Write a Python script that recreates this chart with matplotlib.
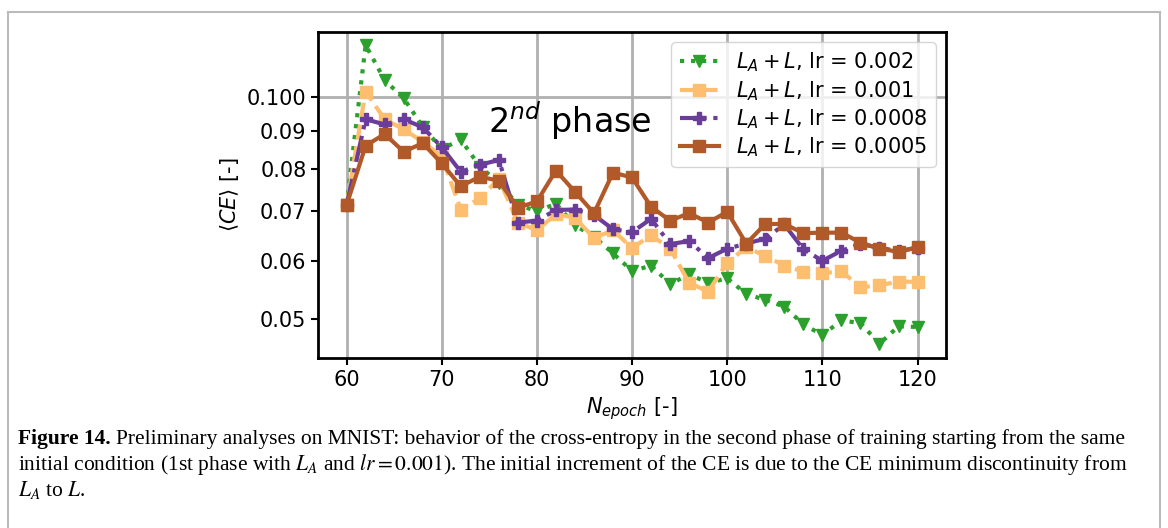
#recreation of the cross-entropy second phase chart
#
import matplotlib
matplotlib.use('Agg')
import matplotlib.pyplot as plt
from matplotlib.lines import Line2D
import numpy as np
#
epochs = [60, 62, 64, 66, 68, 70, 72, 74, 76, 78, 80, 82, 84, 86, 88, 90,
          92, 94, 96, 98, 100, 102, 104, 106, 108, 110, 112, 114, 116, 118, 120]

ce_lr0002 = [0.0714, 0.1176, 0.1054, 0.0996, 0.0912, 0.0850, 0.0876, 0.0805, 0.0765, 0.0715, 0.0700,
             0.0717, 0.0670, 0.0647, 0.0614, 0.0581, 0.0591, 0.0558, 0.0575, 0.0560, 0.0568,
             0.0541, 0.0531, 0.0520, 0.0492, 0.0476, 0.0498, 0.0494, 0.0463, 0.0489, 0.0488]
ce_lr0001 = [0.0714, 0.1017, 0.0933, 0.0904, 0.0870, 0.0830, 0.0704, 0.0729, 0.0775, 0.0676, 0.0660,
             0.0694, 0.0686, 0.0644, 0.0660, 0.0624, 0.0650, 0.0623, 0.0560, 0.0545, 0.0596,
             0.0626, 0.0609, 0.0591, 0.0580, 0.0577, 0.0581, 0.0552, 0.0556, 0.0562, 0.0562]
ce_lr00008 = [0.0714, 0.0933, 0.0918, 0.0933, 0.0910, 0.0855, 0.0792, 0.0809, 0.0822, 0.0676, 0.0680,
              0.0703, 0.0704, 0.0692, 0.0662, 0.0656, 0.0684, 0.0632, 0.0638, 0.0605, 0.0623,
              0.0633, 0.0643, 0.0672, 0.0622, 0.0600, 0.0619, 0.0632, 0.0625, 0.0618, 0.0625]
ce_lr00005 = [0.0714, 0.0859, 0.0891, 0.0843, 0.0866, 0.0813, 0.0757, 0.0780, 0.0770, 0.0708, 0.0722,
              0.0795, 0.0744, 0.0696, 0.0790, 0.0778, 0.0710, 0.0680, 0.0696, 0.0676, 0.0699,
              0.0633, 0.0673, 0.0673, 0.0654, 0.0655, 0.0655, 0.0635, 0.0623, 0.0617, 0.0626]

labels = [r'$L_A + L$, lr = 0.002', r'$L_A + L$, lr = 0.001',
          r'$L_A + L$, lr = 0.0008', r'$L_A + L$, lr = 0.0005']
ytick_major = [0.1]
ytick_minor = [0.05, 0.06, 0.07, 0.08, 0.09]
ytick_minor_labels = ['0.05', '0.06', '0.07', '0.08', '0.09']
#
plt.rcParams['mathtext.fontset'] = 'dejavusans'
fig = plt.figure(figsize=(11.68, 5.28), dpi=100)
ax = fig.add_axes([0.2723, 0.3220, 0.5377, 0.6174])

ax.plot(epochs, ce_lr0002, color='#2ca02c', linestyle=':', marker='v', lw=3, ms=8, label=labels[0])
ax.plot(epochs, ce_lr0001, color='#fdbf6f', linestyle='--', marker='s', lw=3, ms=8, label=labels[1])
ax.plot(epochs, ce_lr00008, color='#6a3d9a', linestyle='-.', marker='P', lw=3, ms=9, label=labels[2])
ax.plot(epochs, ce_lr00005, color='#b15928', linestyle='-', marker='s', lw=3, ms=8, label=labels[3])

ax.set_yscale('log')
ax.set_xlim(57, 123)
ax.set_ylim(0.0443, 0.1225)
ax.set_xticks([60, 70, 80, 90, 100, 110, 120])
ax.set_yticks(ytick_major)
ax.set_yticklabels(['0.100'])
ax.set_yticks(ytick_minor, minor=True)
ax.set_yticklabels(ytick_minor_labels, minor=True)
ax.tick_params(axis='both', which='both', labelsize=15, length=5, width=1.5)
ax.grid(True, which='major', color='#b0b0b0', lw=2)
for s in ax.spines.values():
    s.set_linewidth(2)

ax.set_xlabel(r'$N_{epoch}$ [-]', fontsize=15)
ax.set_ylabel(r'$\langle CE \rangle$ [-]', fontsize=15)
ax.text(74.9, 0.0928, r'$2^{nd}$ phase', fontsize=24, ha='left', va='center')
ax.legend(loc='upper right', fontsize=15, handlelength=1.9, labelspacing=0.22,
          handletextpad=0.8, borderaxespad=0.5, framealpha=0.8)

#page border around the figure
fig.add_artist(Line2D([8/1168, 1160/1168], [1-12/528, 1-12/528], color='#bbbbbb', lw=1.5))
fig.add_artist(Line2D([8/1168, 8/1168], [0, 1-12/528], color='#bbbbbb', lw=1.5))
fig.add_artist(Line2D([1160/1168, 1160/1168], [0, 1-12/528], color='#bbbbbb', lw=1.5))

#caption, bold part first then the rest placed after it
plt.rcParams['mathtext.fontset'] = 'stix'
cap_font = dict(family='Liberation Serif', fontsize=15.5, ha='left', va='baseline')
bold = fig.text(18/1168, 1-444/528, 'Figure 14.', fontweight='bold', **cap_font)
renderer = fig.canvas.get_renderer()
bb = bold.get_window_extent(renderer)
fig.text((bb.x1 + 5)/1168, 1-444/528, 'Preliminary analyses on MNIST: behavior of the cross-entropy in the second phase of training starting from the same', **cap_font)
fig.text(18/1168, 1-470/528, r'initial condition (1st phase with $L_A$ and $lr = 0.001$). The initial increment of the CE is due to the CE minimum discontinuity from', **cap_font)
fig.text(18/1168, 1-496/528, r'$L_A$ to $L$.', **cap_font)

plt.savefig('out.png', dpi=100)
